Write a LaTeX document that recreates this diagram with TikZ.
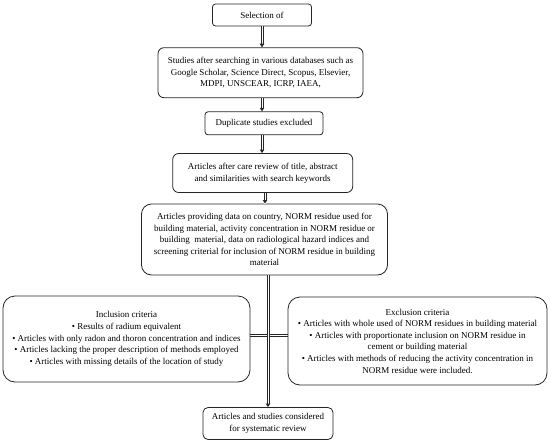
\documentclass[tikz,border=0pt]{standalone}
\usepackage{fontspec}
\setmainfont{Liberation Serif}
\usetikzlibrary{arrows.meta}
\newcommand\myvconn[2]{%
  \path[draw=white, line width=1.6pt] (#1) -- (#2);
  \draw[conn, shorten >=3pt] ([xshift=-1.1pt]#1) -- ([xshift=-1.1pt]#2);
  \draw[conn, shorten >=3pt] ([xshift=1.1pt]#1) -- ([xshift=1.1pt]#2);
  \fill[black!85] (#2) -- ++(-2.3,-3.6) -- ++(4.6,0) -- cycle;
}
\begin{document}
\begin{tikzpicture}[x=1pt,y=-1pt,
  box/.style={draw=black!85, line width=0.8pt, rounded corners=#1, align=center,
    inner sep=0pt, font=\fontsize{9}{11.6}\selectfont},
  box/.default=4pt,
  conn/.style={draw=black!85, line width=0.6pt}]
\useasboundingbox[fill=white] (0,0) rectangle (550,445);

\node[box=3pt, minimum width=99pt, minimum height=22pt] (sel) at (262,15) {Selection of};
\node[box=6pt, minimum width=205pt, minimum height=50pt] (stud) at (260.5,72.7)
  {Studies after searching in various databases such as\\
   Google Scholar, Science Direct, Scopus, Elsevier,\\
   MDPI, UNSCEAR, ICRP, IAEA,};
\node[box=3pt, minimum width=118pt, minimum height=23pt] (dup) at (264,123.3) {Duplicate studies excluded};
\node[box=6pt, minimum width=180pt, minimum height=39pt] (care) at (262.7,173)
  {Articles after care review of title, abstract\\
   and similarities with search keywords};
\node[box=10pt, minimum width=246pt, minimum height=71pt] (data) at (264.5,239.5)
  {Articles providing data on country, NORM residue used for\\
   building material, activity concentration in NORM residue or\\
   building\ \ material, data on radiological hazard indices and\\
   screening criterial for inclusion of NORM residue in building\\
   material};
\node[box=12pt, minimum width=247pt, minimum height=86pt] (incl) at (126.5,339)
  {Inclusion criteria\\
   • Results of radium equivalent\\
   • Articles with only radon and thoron concentration and indices\\
   • Articles lacking the proper description of methods employed\\
   • Articles with missing details of the location of study};
\node[box=12pt, minimum width=259pt, minimum height=88pt] (excl) at (417.5,341)
  {Exclusion criteria\\
   • Articles with whole used of NORM residues in building material\\
   • Articles with proportionate inclusion on NORM residue in\\
   cement or building material\\
   • Articles with methods of reducing the activity concentration in\\
   NORM residue were included.};
\node[box=5pt, minimum width=130pt, minimum height=32pt] (final) at (268,423.5)
  {Articles and studies considered\\
   for systematic review};

% connector end points
\coordinate (a1) at (sel.south);
\coordinate (b1) at (sel.south |- stud.north);
\coordinate (a2) at (stud.south -| sel.south);
\coordinate (b2) at (sel.south |- dup.north);
\coordinate (a3) at (dup.south -| sel.south);
\coordinate (b3) at (sel.south |- care.north);
\coordinate (a4) at ([xshift=2.3pt]care.south);
\coordinate (b4) at (a4 |- data.north);
\coordinate (a5) at (data.south -| final.north);
\coordinate (b5) at (final.north);
\coordinate (hy) at (0,335);
\coordinate (hl) at (incl.east |- hy);
\coordinate (hr) at (excl.west |- hy);

\myvconn{a1}{b1}
\myvconn{a2}{b2}
\myvconn{a3}{b3}
\myvconn{a4}{b4}
\draw[conn] ([yshift=-1.1pt]hl) -- ([yshift=-1.1pt]hr);
\draw[conn] ([yshift=1.1pt]hl) -- ([yshift=1.1pt]hr);
\myvconn{a5}{b5}
\end{tikzpicture}
\end{document}
